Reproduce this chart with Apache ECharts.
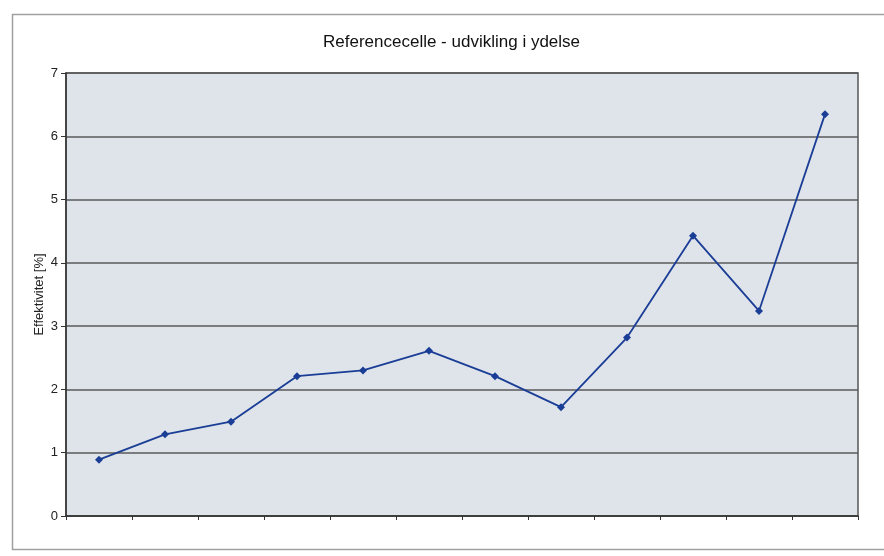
<!DOCTYPE html>
<html>
<head>
<meta charset="utf-8">
<script src="https://cdn.jsdelivr.net/npm/echarts@6/dist/echarts.min.js"></script>
<style>
html,body{margin:0;padding:0;background:#fff;}
#c{width:884px;height:556px;}
</style>
</head>
<body>
<div id="c"></div>
<script>
const categories = ['1','2','3','4','5','6','7','8','9','10','11','12'];
const values = [0.89, 1.29, 1.49, 2.21, 2.30, 2.61, 2.21, 1.72, 2.82, 4.43, 3.24, 6.35];
const yTicks = [0,1,2,3,4,5,6,7];
const titleText = 'Referencecelle - udvikling i ydelse';
const yName = 'Effektivitet [%]';

const chart = echarts.init(document.getElementById('c'));
chart.setOption({
  animation: false,
  backgroundColor: '#ffffff',
  graphic: [{
    type: 'rect',
    shape: {x: 12.5, y: 14.5, width: 900, height: 535},
    style: {fill: 'none', stroke: '#a0a0a0', lineWidth: 1.5},
    z: -10
  }],
  title: {
    text: titleText,
    left: 318,
    top: 29,
    textStyle: {fontFamily: 'Liberation Sans, Arial', fontSize: 17, fontWeight: 'normal', color: '#111'}
  },
  grid: {
    left: 66, right: 26, top: 73, bottom: 40,
    show: true, backgroundColor: '#dfe4ea', borderColor: '#555', borderWidth: 1.5
  },
  xAxis: {
    type: 'category',
    data: categories,
    boundaryGap: true,
    axisLine: {lineStyle: {color: '#333', width: 1.5}},
    axisTick: {show: true, length: 4, lineStyle: {color: '#333'}},
    axisLabel: {show: false},
    splitLine: {show: false}
  },
  yAxis: {
    type: 'value',
    min: yTicks[0], max: yTicks[yTicks.length-1], interval: 1,
    name: yName,
    nameLocation: 'middle',
    nameGap: 20,
    nameMoveOverlap: false,
    nameRotate: 90,
    nameTextStyle: {fontFamily: 'Liberation Sans, Arial', fontSize: 13, color: '#222'},
    axisLine: {show: true, lineStyle: {color: '#333', width: 1.5}},
    axisTick: {show: true, length: 5, lineStyle: {color: '#333'}},
    axisLabel: {fontFamily: 'Liberation Sans, Arial', fontSize: 13, color: '#222', margin: 8},
    splitLine: {show: true, lineStyle: {color: '#5a5a5a', width: 1.5}}
  },
  series: [{
    type: 'line',
    data: values,
    symbol: 'diamond',
    symbolSize: 8,
    itemStyle: {color: '#1a3d96'},
    lineStyle: {color: '#1a3d96', width: 1.8}
  }]
});
</script>
</body>
</html>
